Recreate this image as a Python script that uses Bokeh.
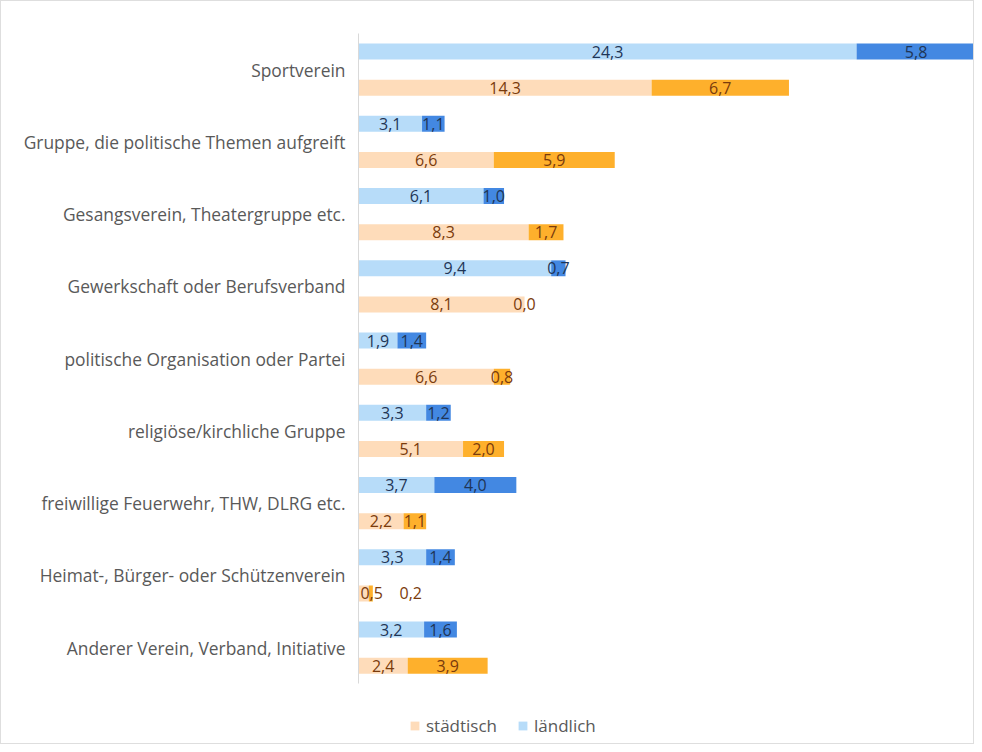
from bokeh.plotting import figure
from bokeh.models import ColumnDataSource, Range1d, Legend, LegendItem, FixedTicker
from bokeh.core.properties import value
from bokeh.embed import file_html
from bokeh.resources import INLINE

categories = [
    "Sportverein",
    "Gruppe, die politische Themen aufgreift",
    "Gesangsverein, Theatergruppe etc.",
    "Gewerkschaft oder Berufsverband",
    "politische Organisation oder Partei",
    "religiöse/kirchliche Gruppe",
    "freiwillige Feuerwehr, THW, DLRG etc.",
    "Heimat-, Bürger- oder Schützenverein",
    "Anderer Verein, Verband, Initiative",
]
laendlich_a = [24.3, 3.1, 6.1, 9.4, 1.9, 3.3, 3.7, 3.3, 3.2]
laendlich_b = [5.8, 1.1, 1.0, 0.7, 1.4, 1.2, 4.0, 1.4, 1.6]
staedtisch_a = [14.3, 6.6, 8.3, 8.1, 6.6, 5.1, 2.2, 0.5, 2.4]
staedtisch_b = [6.7, 5.9, 1.7, 0.0, 0.8, 2.0, 1.1, 0.2, 3.9]

FONT = "Open Sans"
LIGHT_BLUE = "#b7dcf9"
DARK_BLUE = "#4388e2"
LIGHT_ORANGE = "#fedcba"
DARK_ORANGE = "#feb02c"
BLUE_TXT = "#1f3556"
ORANGE_TXT = "#7a3b0c"

n = len(categories)
idx = list(range(n))
y_l = [i - 0.25 for i in idx]
y_s = [i + 0.25 for i in idx]

def fmt(v):
    return f"{v:.1f}".replace(".", ",")

# frame runs from the top margin to the bottom of the figure; the extra room
# below the last category holds the legend
FRAME_H = 744 - 32
PX_PER_CAT = 72.25
y_bottom = -0.5 + FRAME_H / PX_PER_CAT

p = figure(width=974, height=744, output_backend="svg", toolbar_location=None,
           x_range=Range1d(0, 30.1), y_range=Range1d(y_bottom, -0.5),
           min_border_left=357, min_border_right=0, min_border_top=32,
           min_border_bottom=0)
p.outline_line_color = None
p.grid.visible = False
p.xaxis.visible = False
p.styles = {"border": "1px solid #dedede"}

H = 0.22
src = ColumnDataSource(dict(
    y_l=y_l, y_s=y_s,
    la_r=laendlich_a,
    lb_l=laendlich_a, lb_r=[a + b for a, b in zip(laendlich_a, laendlich_b)],
    sa_r=staedtisch_a,
    sb_l=staedtisch_a, sb_r=[a + b for a, b in zip(staedtisch_a, staedtisch_b)],
))

r_la = p.hbar(y="y_l", left=0, right="la_r", height=H, source=src,
              fill_color=LIGHT_BLUE, line_color=None)
p.hbar(y="y_l", left="lb_l", right="lb_r", height=H, source=src,
       fill_color=DARK_BLUE, line_color=None)
r_sa = p.hbar(y="y_s", left=0, right="sa_r", height=H, source=src,
              fill_color=LIGHT_ORANGE, line_color=None)
p.hbar(y="y_s", left="sb_l", right="sb_r", height=H, source=src,
       fill_color=DARK_ORANGE, line_color=None)

# data labels at segment centres (small pixel nudges where the original moved them)
label_offset_sa = [0, 0, 0, 0, 0, 0, 0, 8, 0]
label_offset_sb = [0, 0, 0, 0, 0, 0, 0, 40, 0]
LS = "16px"
lab = ColumnDataSource(dict(
    x=[a / 2 for a in laendlich_a], y=y_l, t=[fmt(v) for v in laendlich_a]))
p.text(x="x", y="y", text="t", source=lab, text_align="center", text_baseline="middle",
       text_font=value(FONT), text_font_size=LS, text_color=BLUE_TXT)
lab = ColumnDataSource(dict(
    x=[a + b / 2 for a, b in zip(laendlich_a, laendlich_b)], y=y_l,
    t=[fmt(v) for v in laendlich_b]))
p.text(x="x", y="y", text="t", source=lab, text_align="center", text_baseline="middle",
       text_font=value(FONT), text_font_size=LS, text_color=BLUE_TXT)
lab = ColumnDataSource(dict(
    x=[a / 2 for a in staedtisch_a], y=y_s, t=[fmt(v) for v in staedtisch_a],
    xo=label_offset_sa))
p.text(x="x", y="y", text="t", source=lab, text_align="center", text_baseline="middle",
       x_offset="xo",
       text_font=value(FONT), text_font_size=LS, text_color=ORANGE_TXT)
lab = ColumnDataSource(dict(
    x=[a + b / 2 for a, b in zip(staedtisch_a, staedtisch_b)], y=y_s,
    t=[fmt(v) for v in staedtisch_b], xo=label_offset_sb))
p.text(x="x", y="y", text="t", source=lab, text_align="center", text_baseline="middle",
       x_offset="xo",
       text_font=value(FONT), text_font_size=LS, text_color=ORANGE_TXT)

ax = p.yaxis[0]
ax.ticker = FixedTicker(ticks=idx)
ax.bounds = (-0.5, n - 0.5)
ax.major_label_overrides = {i: c for i, c in enumerate(categories)}
ax.major_tick_line_color = None
ax.minor_tick_line_color = None
ax.axis_line_color = "#d9d9d9"
ax.major_label_standoff = 7
ax.major_label_text_font = FONT
ax.major_label_text_font_size = "17.4px"
ax.major_label_text_color = "#595959"

legend = Legend(items=[LegendItem(label="städtisch", renderers=[r_sa]),
                       LegendItem(label="ländlich", renderers=[r_la])],
                orientation="horizontal", location=(51, 8),
                glyph_width=11, glyph_height=11, spacing=20,
                label_text_font=FONT, label_text_font_size="17px",
                label_text_color="#595959", border_line_color=None,
                background_fill_alpha=0, padding=4, label_standoff=6,
                margin=0)
p.add_layout(legend, "center")

open("out.html", "w").write(file_html(p, INLINE))
